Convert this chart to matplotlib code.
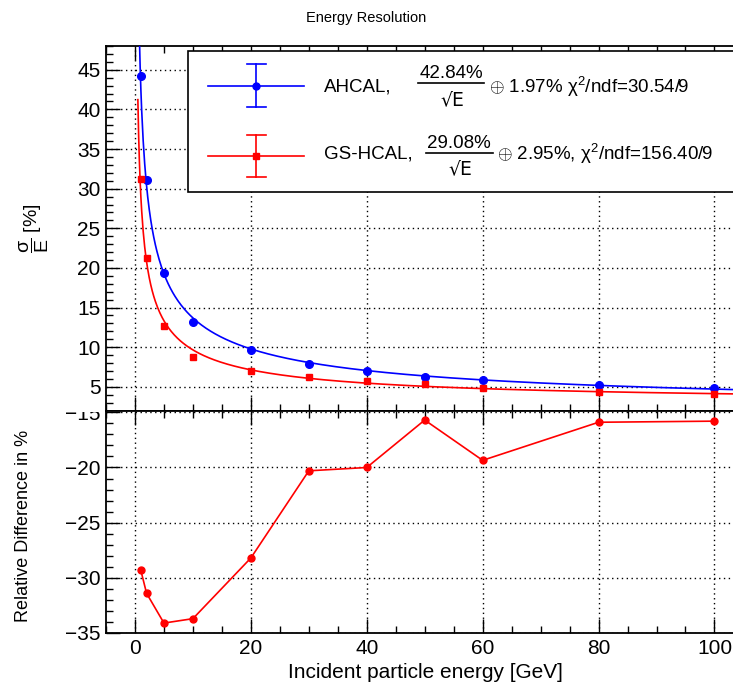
import numpy as np
import matplotlib
matplotlib.use("Agg")
import matplotlib.pyplot as plt
from matplotlib.lines import Line2D
from matplotlib.patches import Rectangle
from matplotlib.ticker import MultipleLocator

plt.rcParams['font.family'] = ['Liberation Sans', 'DejaVu Sans']
plt.rcParams['mathtext.fontset'] = 'custom'
plt.rcParams['mathtext.rm'] = 'Liberation Sans'
plt.rcParams['mathtext.it'] = 'Liberation Sans:italic'

# beam energies [GeV]
energy = [1, 2, 5, 10, 20, 30, 40, 50, 60, 80, 100]
# sigma/E [%]
ahcal_res = [44.2, 31.1, 19.4, 13.2, 9.7, 7.9, 7.0, 6.3, 5.9, 5.2, 4.8]
gshcal_res = [31.2, 21.3, 12.7, 8.8, 7.0, 6.3, 5.7, 5.3, 4.8, 4.4, 4.1]
# relative difference [%]
rel_diff = [-29.3, -31.4, -34.1, -33.7, -28.2, -20.3, -20.0, -15.7, -19.35, -15.9, -15.8]

# fit parameters from legend: stochastic, constant
ahcal_fit = (42.84, 1.97)
gshcal_fit = (29.08, 2.95)

W, H = 733, 686
fx = lambda px: px / W
fy = lambda py: 1 - py / H

fig = plt.figure(figsize=(W / 100, H / 100), dpi=100)
ax1 = fig.add_axes([fx(106), fy(411), fx(733) - fx(106), fy(46) - fy(411)])
ax2 = fig.add_axes([fx(106), fy(633), fx(733) - fx(106), fy(411) - fy(633)])

grid_kw = dict(color='black', linestyle=(0, (1, 2.5)), linewidth=1.0)

# top panel
e_fit = np.linspace(0.5, 105, 800)
for (a, b), col in [(ahcal_fit, 'blue'), (gshcal_fit, 'red')]:
    ax1.plot(e_fit, np.sqrt(a**2 / e_fit + b**2), color=col, lw=1.2, zorder=3)
ax1.plot(energy, ahcal_res, 'o', color='blue', ms=5.5, zorder=4)
ax1.plot(energy, gshcal_res, 's', color='red', ms=5, zorder=4)
ax1.set_xlim(-5, 103.2)
ax1.set_ylim(1.95, 48.0)
ax1.xaxis.set_major_locator(MultipleLocator(20))
ax1.xaxis.set_minor_locator(MultipleLocator(5))
ax1.yaxis.set_major_locator(MultipleLocator(5))
ax1.yaxis.set_minor_locator(MultipleLocator(1))
ax1.grid(True, which='major', **grid_kw)
ax1.tick_params(labelbottom=False)

# bottom panel
ax2.plot(energy, rel_diff, 'o-', color='red', ms=5, lw=1.2, zorder=3)
ax2.set_xlim(-5, 103.2)
ax2.set_ylim(-35.0, -14.88)
ax2.xaxis.set_major_locator(MultipleLocator(20))
ax2.xaxis.set_minor_locator(MultipleLocator(5))
ax2.yaxis.set_major_locator(MultipleLocator(5))
ax2.yaxis.set_minor_locator(MultipleLocator(1))
ax2.grid(True, which='major', **grid_kw)

for ax in (ax1, ax2):
    ax.spines['right'].set_visible(False)
    for s in ('left', 'top', 'bottom'):
        ax.spines[s].set_linewidth(1.3)
    ax.tick_params(which='both', direction='in', top=True, right=False, width=1.0)
    ax.tick_params(which='major', length=10, labelsize=15, pad=4)
    ax.tick_params(which='minor', length=5)
    ax.set_axisbelow(True)

# the upper pad hides the top half of the "-15" label
fig.patches.append(Rectangle((fx(40), fy(411.5)), fx(104) - fx(40), fy(398) - fy(411.5),
                             transform=fig.transFigure, facecolor='white',
                             edgecolor='none', zorder=5))

# legend box drawn by hand
fig.patches.append(Rectangle((fx(188), fy(192)), fx(760) - fx(188), fy(51) - fy(192),
                             transform=fig.transFigure, facecolor='white',
                             edgecolor='black', linewidth=1.2, zorder=5))

def legend_entry(y, col, marker, ms, y_lo, y_hi):
    kw = dict(transform=fig.transFigure, color=col, lw=1.2, zorder=6)
    fig.lines.append(Line2D([fx(208), fx(304)], [fy(y), fy(y)], **kw))
    fig.lines.append(Line2D([fx(256), fx(256)], [fy(y_lo), fy(y_hi)], **kw))
    for yy in (y_lo, y_hi):
        fig.lines.append(Line2D([fx(247), fx(266)], [fy(yy), fy(yy)], **kw))
    fig.lines.append(Line2D([fx(256)], [fy(y)], marker=marker, ms=ms, color=col,
                            transform=fig.transFigure, zorder=7))

legend_entry(86, 'blue', 'o', 5, 64, 107)
legend_entry(156, 'red', 's', 5, 135, 177)

def frac(xc, y_num, y_bar, y_den, x0, x1, num):
    fig.text(fx(xc), fy(y_num), num, ha='center', va='center', fontsize=13.5, zorder=8)
    fig.lines.append(Line2D([fx(x0), fx(x1)], [fy(y_bar), fy(y_bar)], color='black',
                            lw=1.2, transform=fig.transFigure, zorder=8))
    fig.text(fx(xc + 1), fy(y_den), '√E', ha='center', va='center', fontsize=13.5,
             zorder=8, family=['DejaVu Sans'])

fig.text(fx(324), fy(87), 'AHCAL,', ha='left', va='center', fontsize=13.5, zorder=8)
frac(451, 73, 82.5, 100, 418, 484, '42.84%')
fig.text(fx(489), fy(87), r'$\oplus$ 1.97% $\mathrm{\chi}^{2}$/ndf=30.54/9', ha='left',
         va='center', fontsize=13.5, zorder=8)

fig.text(fx(324), fy(154), 'GS-HCAL,', ha='left', va='center', fontsize=13.5, zorder=8)
frac(459, 143, 152.7, 169, 426, 493, '29.08%')
fig.text(fx(497), fy(154), r'$\oplus$ 2.95%, $\mathrm{\chi}^{2}$/ndf=156.40/9', ha='left',
         va='center', fontsize=13.5, zorder=8)

# titles and axis labels
fig.text(fx(366), fy(18), 'Energy Resolution', ha='center', va='center', fontsize=10.5)
fig.text(fx(34), fy(228), r'$\dfrac{\mathrm{\sigma}}{\mathrm{E}}$ [%]', rotation=90,
         ha='center', va='center', fontsize=14)
fig.text(fx(24), fy(526), 'Relative Difference in %', rotation=90, ha='center', va='center',
         fontsize=13)
fig.text(fx(425), fy(673), 'Incident particle energy [GeV]', ha='center', va='center',
         fontsize=15)

fig.savefig('out.png', dpi=100)
